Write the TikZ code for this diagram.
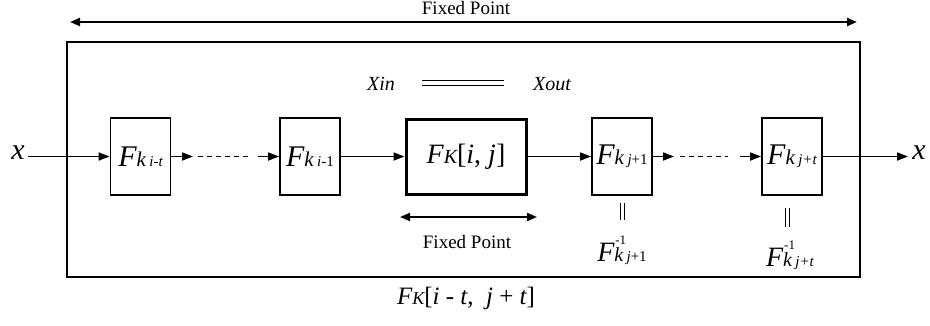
\documentclass[tikz,border=0pt]{standalone}
\usepackage{fontspec}
\setmainfont{Liberation Serif}
\usetikzlibrary{arrows.meta}
\newcommand{\fs}[1]{\fontsize{#1}{#1}\selectfont}
\newcommand{\Fkk}[1]{{\fs{30}\itshape F}{\fs{21}\itshape k\,}{\fs{15}#1}}
\newcommand{\Fkinv}[1]{{\fs{28}\itshape F}\rlap{\hspace{1pt}\raisebox{17pt}{\fs{13}-1}}{\fs{20}\itshape k\,}{\fs{15}#1}}
\tikzset{
  fbox/.style={draw, line width=1.8pt, minimum width=60pt, minimum height=77pt, inner sep=0pt},
  mainbox/.style={draw, line width=3pt, minimum width=120pt, minimum height=75pt, inner sep=0pt},
  conn/.style={line width=1.7pt, -{Triangle[length=11pt,width=8pt]}},
  dots/.style={line width=1.8pt, dash pattern=on 5pt off 4pt},
  fp/.style={line width=2.4pt, {Triangle[length=10pt,width=8pt]}-{Triangle[length=10pt,width=8pt]}},
  fpsmall/.style={line width=1.9pt, {Triangle[length=10pt,width=8pt]}-{Triangle[length=10pt,width=8pt]}},
  lbl/.style={inner sep=0pt, font=\fs{19}},
  eqline/.style={line width=0.9pt},
}
\begin{document}
\begin{tikzpicture}[x=1pt,y=-1pt]
\useasboundingbox (0,0) rectangle (930,325);
% outer frame
\node[draw, line width=1.2pt, minimum width=793pt, minimum height=235pt, inner sep=0pt] (frame) at (463.5,159.5) {};
% top fixed point
\node[lbl] (fptop) at (466,8) {Fixed Point};
\coordinate (ta) at (70,22);
\coordinate (tb) at (857,22);
\draw[fp] (ta) -- (tb);
% boxes
\node[fbox] (b1) at (140.5,156.5) {\Fkk{\itshape i-t}};
\node[fbox] (b2) at (310,156.5) {\Fkk{{\itshape i}-1}};
\node[mainbox] (bm) at (466,156.5) {{\fs{28}\itshape F}{\fs{20}\itshape K}{\fs{28}[{\itshape i}, {\itshape j}]}};
\node[fbox] (b4) at (622,156.5) {\Fkk{{\itshape j}+1}};
\node[fbox] (b5) at (792,156.5) {\Fkk{{\itshape j+t}}};
% input / output
\node[inner sep=0pt, font=\fs{30}\itshape] (xin) at (18,153) {x};
\node[inner sep=0pt, font=\fs{30}\itshape] (xout) at (919,153) {x};
\coordinate (xs) at (28,156.5);
\draw[conn] (xs) -- (b1.west);
\coordinate (c1) at (193,156.5);
\coordinate (d1) at (198,156.5);
\coordinate (d2) at (248,156.5);
\coordinate (c2) at (258,156.5);
\draw[conn] (b1.east) -- (c1);
\draw[dots] (d1) -- (d2);
\draw[conn] (c2) -- (b2.west);
\draw[conn] (b2.east) -- (bm.west);
\draw[conn] (bm.east) -- (b4.west);
\coordinate (c3) at (674,156.5);
\coordinate (d3) at (680,156.5);
\coordinate (d4) at (728,156.5);
\coordinate (c4) at (740,156.5);
\draw[conn] (b4.east) -- (c3);
\draw[dots] (d3) -- (d4);
\draw[conn] (c4) -- (b5.west);
\coordinate (xe) at (908,156.5);
\draw[conn] (b5.east) -- (xe);
% Xin = Xout
\node[inner sep=0pt, font=\fs{20}\itshape] (xinl) at (381,84) {Xin};
\node[inner sep=0pt, font=\fs{20}\itshape] (xoutl) at (552,84) {Xout};
\coordinate (e1) at (422,80);
\coordinate (e2) at (504,80);
\coordinate (e3) at (422,85);
\coordinate (e4) at (504,85);
\draw[eqline] (e1) -- (e2);
\draw[eqline] (e3) -- (e4);
% middle fixed point
\coordinate (ma) at (400,217);
\coordinate (mb) at (537,217);
\draw[fpsmall] (ma) -- (mb);
\node[lbl] (fpmid) at (467,242) {Fixed Point};
% equalities
\coordinate (q1) at (620.5,203);
\coordinate (q2) at (620.5,220);
\coordinate (q3) at (624,203);
\coordinate (q4) at (624,220);
\draw[eqline] (q1) -- (q2);
\draw[eqline] (q3) -- (q4);
\coordinate (r1) at (785.5,208);
\coordinate (r2) at (785.5,227);
\coordinate (r3) at (789,208);
\coordinate (r4) at (789,227);
\draw[eqline] (r1) -- (r2);
\draw[eqline] (r3) -- (r4);
\node[inner sep=0pt, anchor=base] (inv1) at (622,261) {\Fkinv{{\itshape j}+1}};
\node[inner sep=0pt, anchor=base] (inv2) at (790,266) {\Fkinv{{\itshape j+t}}};
% bottom label
\node[inner sep=0pt] (bot) at (466,298) {{\fs{25}\itshape F}{\fs{18}\itshape K}{\fs{25}[{\itshape i} - {\itshape t}, \ {\itshape j} + {\itshape t}]}};
\end{tikzpicture}
\end{document}
